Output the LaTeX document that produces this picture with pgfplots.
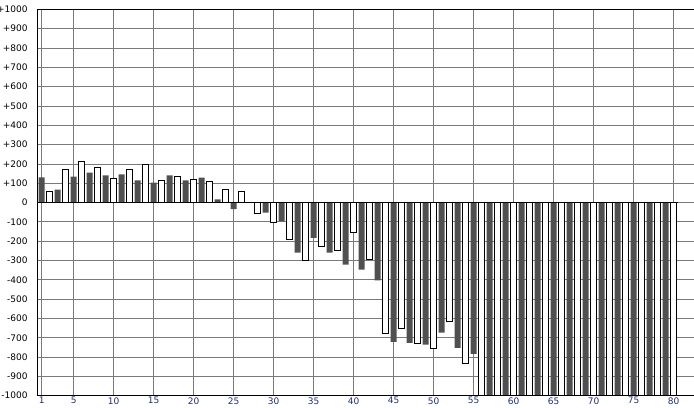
\documentclass[border=0pt]{standalone}
\usepackage{pgfplots}
\pgfplotsset{compat=1.18}
\usepackage{fontspec}
\setmainfont{DejaVu Sans}
\definecolor{darkbar}{HTML}{505050}
\definecolor{gridc}{HTML}{7A7A7A}
\definecolor{xlab}{HTML}{1F2F6F}
\begin{document}
\begin{tikzpicture}
\begin{axis}[
  name=ax, scale only axis, width=656.3pt, height=386.4pt,
  xmin=0.5, xmax=82.54, ymin=-1000, ymax=1000,
  axis x line*=box, axis y line*=left,
  axis line style={black, line width=1.2pt},
  xtick={1,5,10,15,20,25,30,35,40,45,50,55,60,65,70,75,80},
  xticklabels={1,5,10,15,20,25,30,35,40,45,50,55,60,65,70,75,80},
  ytick={-1000,-900,-800,-700,-600,-500,-400,-300,-200,-100,0,100,200,300,400,500,600,700,800,900,1000},
  yticklabels={-1000,-900,-800,-700,-600,-500,-400,-300,-200,-100,0,+100,+200,+300,+400,+500,+600,+700,+800,+900,+1000},
  grid=major, major grid style={gridc, line width=0.7pt},
  major tick length=0pt, tick style={draw=none},
  ticklabel style={font=\fontsize{9}{10}\selectfont},
  yticklabel style={anchor=east, inner sep=0pt, text=black},
  xticklabel style={anchor=north, inner sep=0pt, text=xlab},
  yticklabel shift=10pt, xticklabel shift=1.5pt,
]
\addplot[ybar, bar width=6pt, bar shift=0pt, fill=darkbar, draw=none] coordinates {
(1,130) (3,67) (5,134) (7,155) (9,140) (11,145) (13,114) (15,103) (17,140) (19,114)
(21,129) (23,16) (25,-34) (29,-53) (31,-98) (33,-260) (35,-183) (37,-260) (39,-322)
(41,-348) (43,-403) (45,-721) (47,-726) (49,-736) (51,-674) (53,-752) (55,-783)
(57,-1000) (59,-1000) (61,-1000) (63,-1000) (65,-1000) (67,-1000) (69,-1000)
(71,-1000) (73,-1000) (75,-1000) (77,-1000) (79,-1000)};
\addplot[ybar, bar width=5.7pt, bar shift=0pt, fill=white, draw=black, line width=0.9pt] coordinates {
(2,55) (4,169) (6,210) (8,179) (10,122) (12,169) (14,195) (16,112) (18,133) (20,117)
(22,107) (24,66) (26,59) (28,-57) (30,-105) (32,-191) (34,-300) (36,-228) (38,-248)
(40,-155) (42,-295) (44,-678) (46,-652) (48,-729) (50,-755) (52,-616) (54,-833)
(56,-1000) (58,-1000) (60,-1000) (62,-1000) (64,-1000) (66,-1000) (68,-1000)
(70,-1000) (72,-1000) (74,-1000) (76,-1000) (78,-1000) (80,-1000)};
\addplot[black, line width=1.1pt, mark=none] coordinates {(0.5,0) (80.5,0)};
\addplot[black, line width=2.4pt, mark=none] coordinates {(0.5,-1000) (82.54,-1000)};
\end{axis}
\pgfresetboundingbox
\path[use as bounding box] ([xshift=-37.7pt,yshift=-11.3pt]ax.south west) rectangle ([yshift=9.3pt]ax.north east);
\end{tikzpicture}
\end{document}
